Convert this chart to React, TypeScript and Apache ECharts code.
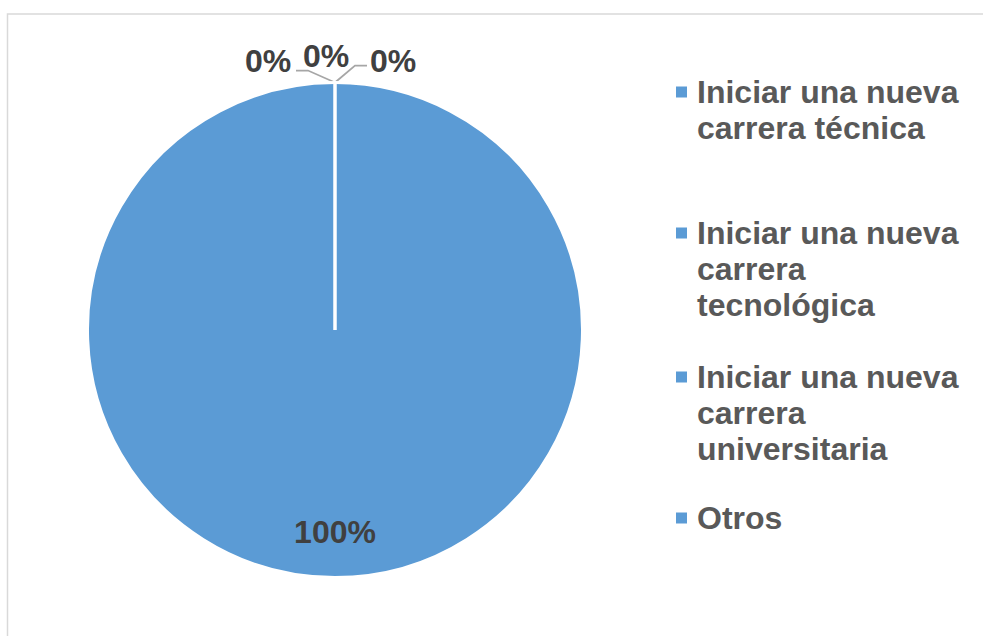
import React, { useEffect, useRef } from "react";
import * as echarts from "echarts";

// ---- data ----
const categories = [
  "Iniciar una nueva carrera técnica",
  "Iniciar una nueva carrera tecnológica",
  "Iniciar una nueva carrera universitaria",
  "Otros",
];
const values = [0, 0, 0, 100];

// ---- layout / style ----
const FONT = "'Liberation Sans', Arial, sans-serif";
const SLICE_COLOR = "#5B9BD5";
const PIE_CX = 335;
const PIE_CY = 330;
const PIE_R = 247.5;
// label centre offsets relative to pie centre
const LABEL_OFFSETS: number[][] = [
  [-67, -269],
  [-9, -274],
  [58, -269],
  [0, 202],
];
// leader lines relative to top point of pie
const LABEL_LINES: (number[][] | null)[] = [
  [[0, 0], [-27, -12], [-39, -12]],
  null,
  [[0, 0], [20, -17], [32, -17]],
  null,
];
const LEGEND_LEFT = 676;
const LEGEND_CENTERS = [92, 233, 377, 518];
const LEGEND_LINES = [2, 3, 3, 1];
const LINE_H = 36;
const ICON = 11;
const ICON_BOX_W = 16;

function legendIcon(lines: number) {
  const h = lines * LINE_H;
  const y0 = LINE_H / 2 - ICON / 2;
  // square at the first line; the lone moveTo points stretch the icon box
  return `path://M0,${y0}H${ICON}V${y0 + ICON}H0Z M0,0 M${ICON_BOX_W},${h}`;
}

export default function App() {
  const ref = useRef<HTMLDivElement>(null);
  useEffect(() => {
    if (!ref.current) return;
    const chart = echarts.init(ref.current, undefined, { renderer: "svg" });
    const option: any = {
      animation: false,
      backgroundColor: "#ffffff",
      graphic: [
        {
          type: "polyline",
          silent: true,
          shape: { points: [[7.5, 700], [7.5, 14], [1000, 14]] },
          style: { fill: "none", stroke: "#D9D9D9", lineWidth: 1.5 },
        },
        {
          type: "line",
          silent: true,
          z: 100,
          shape: { x1: PIE_CX, y1: PIE_CY, x2: PIE_CX, y2: PIE_CY - PIE_R - 1 },
          style: { stroke: "#ffffff", lineWidth: 3.5 },
        },
      ],
      legend: categories.map((name, i) => ({
        data: [name],
        orient: "vertical",
        left: LEGEND_LEFT,
        top: LEGEND_CENTERS[i] - LINE_H / 2,
        padding: 0,
        itemWidth: ICON_BOX_W,
        itemHeight: LEGEND_LINES[i] * LINE_H,
        icon: legendIcon(LEGEND_LINES[i]),
        itemStyle: { borderWidth: 0, color: SLICE_COLOR },
        selectedMode: false,
        textStyle: {
          fontFamily: FONT,
          fontSize: 32,
          fontWeight: "bold",
          color: "#595959",
          lineHeight: LINE_H,
          width: 275,
          overflow: "break",
        },
      })),
      series: [
        {
          type: "pie",
          center: [PIE_CX, PIE_CY],
          radius: PIE_R,
          startAngle: 90,
          clockwise: true,
          avoidLabelOverlap: false,
          emphasis: { disabled: true },
          itemStyle: { color: SLICE_COLOR, borderColor: "#ffffff", borderWidth: 3 },
          label: {
            show: true,
            formatter: "{d}%",
            fontFamily: FONT,
            fontSize: 32,
            fontWeight: "bold",
            color: "#404040",
          },
          labelLine: {
            show: true,
            length: 10,
            length2: 10,
            lineStyle: { color: "#A6A6A6", width: 1.75 },
          },
          data: categories.map((name, i) => ({
            name,
            value: values[i],
            label: i === 3 ? { position: "inside" } : undefined,
            labelLine: { show: LABEL_LINES[i] != null },
          })),
          labelLayout: (params: any) => {
            const i = params.dataIndex;
            const [dx, dy] = LABEL_OFFSETS[i];
            const res: any = {
              x: PIE_CX + dx,
              y: PIE_CY + dy,
              align: "center",
              verticalAlign: "middle",
            };
            const pts = LABEL_LINES[i];
            if (pts) {
              res.labelLinePoints = pts.map(([px, py]) => [PIE_CX + px, PIE_CY - PIE_R + py]);
            }
            return res;
          },
        },
      ],
    };
    chart.setOption(option);
    return () => chart.dispose();
  }, []);
  return (
    <div
      ref={ref}
      style={{ position: "absolute", left: 0, top: 0, width: 983, height: 636 }}
    />
  );
}
